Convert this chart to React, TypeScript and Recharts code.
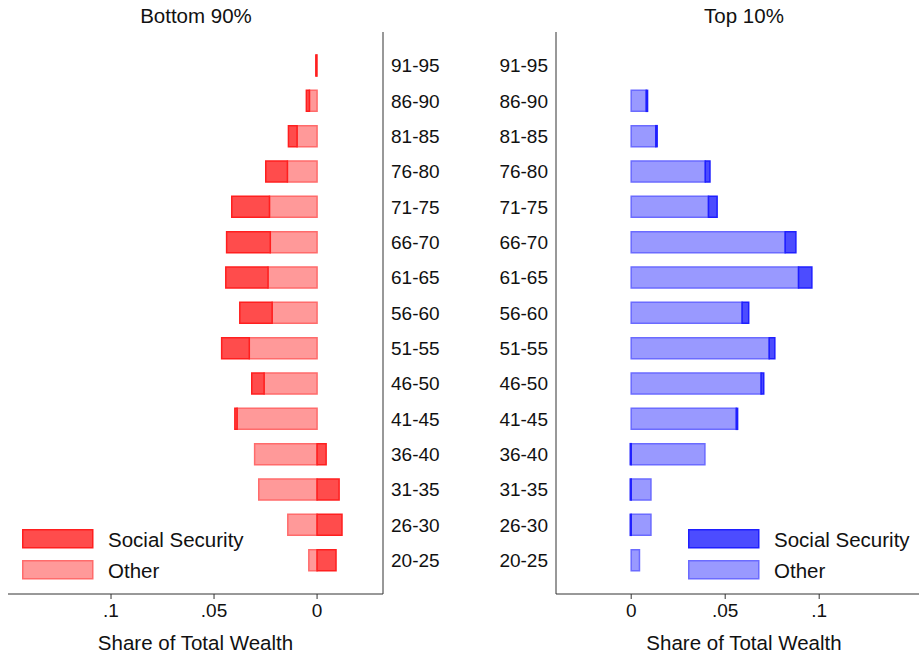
import { BarChart, Bar, XAxis, YAxis } from 'recharts'

// Age groups, oldest on top
const ageGroups = [
  '91-95', '86-90', '81-85', '76-80', '71-75', '66-70', '61-65', '56-60',
  '51-55', '46-50', '41-45', '36-40', '31-35', '26-30', '20-25'
]

// Bottom 90% shares of total wealth
const bottomSocialSecurity = [
  0.0004, 0.0015, 0.0042, 0.0105, 0.0183, 0.0212, 0.0205, 0.0157,
  0.0134, 0.006, 0.0011, -0.0044, -0.0107, -0.0121, -0.0092
]
const bottomOther = [
  0.0002, 0.0037, 0.0097, 0.0144, 0.0231, 0.0227, 0.0238, 0.0218,
  0.0329, 0.0257, 0.0388, 0.0303, 0.0283, 0.0142, 0.004
]

// Top 10% shares of total wealth
const topSocialSecurity = [
  0, 0.0007, 0.0007, 0.0025, 0.0046, 0.0057, 0.0071, 0.0035,
  0.003, 0.0014, 0.0007, -0.0005, -0.0005, -0.0005, 0
]
const topOther = [
  0, 0.008, 0.0131, 0.0394, 0.0411, 0.0819, 0.089, 0.059,
  0.0734, 0.0691, 0.0559, 0.0392, 0.0105, 0.0105, 0.0044
]

const shareTicks = [0, 0.05, 0.1]

const bottomData = ageGroups.map((age, i) => ({
  age,
  socialSecurity: bottomSocialSecurity[i],
  other: bottomOther[i]
}))
const topData = ageGroups.map((age, i) => ({
  age,
  socialSecurity: topSocialSecurity[i],
  other: topOther[i]
}))

const colors = {
  red: { ss: '#ff4c4c', ssLine: '#ff1f1f', other: '#ff9999', otherLine: '#ff6b6b' },
  blue: { ss: '#4c4cff', ssLine: '#1f1fff', other: '#9999ff', otherLine: '#6b6bff' }
}

const formatShare = (v: number) => (v === 0 ? '0' : String(v).replace(/^0/, ''))

const axisStroke = '#333'
const textColor = '#111'

function LegendKey({ left, palette }: { left: number; palette: typeof colors.red }) {
  return (
    <svg
      width={260}
      height={60}
      style={{ position: 'absolute', left, top: 525, overflow: 'visible' }}
    >
      <rect x={0.75} y={4.75} width={70} height={18} fill={palette.ss} stroke={palette.ssLine} strokeWidth={1.5} />
      <text x={86} y={14} dominantBaseline="central" fontSize={20.5} fill={textColor}>
        Social Security
      </text>
      <rect x={0.75} y={35.75} width={70} height={18} fill={palette.other} stroke={palette.otherLine} strokeWidth={1.5} />
      <text x={86} y={45} dominantBaseline="central" fontSize={20.5} fill={textColor}>
        Other
      </text>
    </svg>
  )
}

export default function App() {
  return (
    <div
      style={{
        position: 'absolute',
        left: 0,
        top: 0,
        width: 919,
        height: 658,
        overflow: 'hidden',
        background: '#fff',
        fontFamily: '"Liberation Sans", Arial, Helvetica, sans-serif'
      }}
    >
      {/* Panel titles */}
      <div style={{ position: 'absolute', left: 0, width: 392, top: 4, textAlign: 'center', fontSize: 20.5, lineHeight: '24px', color: textColor }}>
        Bottom 90%
      </div>
      <div style={{ position: 'absolute', left: 556, width: 376, top: 4, textAlign: 'center', fontSize: 20.5, lineHeight: '24px', color: textColor }}>
        Top 10%
      </div>

      {/* Bottom 90% panel, axis runs right to left */}
      <div style={{ position: 'absolute', left: 0, top: 0 }}>
        <BarChart
          layout="vertical"
          width={460}
          height={658}
          data={bottomData}
          margin={{ top: 32, right: 0, bottom: 0, left: 8 }}
          stackOffset="sign"
          barSize={21}
        >
          <XAxis
            type="number"
            domain={[-0.032, 0.15]}
            reversed
            allowDataOverflow
            ticks={shareTicks}
            tickFormatter={formatShare}
            height={64}
            tickSize={5}
            tickMargin={5}
            stroke={axisStroke}
            tick={{ fill: textColor, fontSize: 19 }}
            label={{ value: 'Share of Total Wealth', position: 'insideBottom', offset: 8, fill: textColor, fontSize: 20.5 }}
          />
          <YAxis
            type="category"
            dataKey="age"
            orientation="right"
            width={77}
            interval={0}
            tickLine={false}
            padding={{ top: 16, bottom: 16 }}
            stroke={axisStroke}
            tick={{ fill: textColor, fontSize: 19 }}
          />
          <Bar dataKey="other" stackId="a" fill={colors.red.other} stroke={colors.red.otherLine} strokeWidth={1.5} isAnimationActive={false} />
          <Bar dataKey="socialSecurity" stackId="a" fill={colors.red.ss} stroke={colors.red.ssLine} strokeWidth={1.5} isAnimationActive={false} />
        </BarChart>
      </div>

      {/* Top 10% panel */}
      <div style={{ position: 'absolute', left: 460, top: 0 }}>
        <BarChart
          layout="vertical"
          width={472}
          height={658}
          data={topData}
          margin={{ top: 32, right: 0, bottom: 0, left: 0 }}
          stackOffset="sign"
          barSize={21}
        >
          <XAxis
            type="number"
            domain={[-0.04, 0.16]}
            allowDataOverflow
            ticks={shareTicks}
            tickFormatter={formatShare}
            height={64}
            tickSize={5}
            tickMargin={5}
            stroke={axisStroke}
            tick={{ fill: textColor, fontSize: 19 }}
            label={{ value: 'Share of Total Wealth', position: 'insideBottom', offset: 8, fill: textColor, fontSize: 20.5 }}
          />
          <YAxis
            type="category"
            dataKey="age"
            orientation="left"
            width={96}
            interval={0}
            tickLine={false}
            padding={{ top: 16, bottom: 16 }}
            stroke={axisStroke}
            tick={{ fill: textColor, fontSize: 19 }}
          />
          <Bar dataKey="other" stackId="a" fill={colors.blue.other} stroke={colors.blue.otherLine} strokeWidth={1.5} isAnimationActive={false} />
          <Bar dataKey="socialSecurity" stackId="a" fill={colors.blue.ss} stroke={colors.blue.ssLine} strokeWidth={1.5} isAnimationActive={false} />
        </BarChart>
      </div>

      <LegendKey left={22} palette={colors.red} />
      <LegendKey left={688} palette={colors.blue} />
    </div>
  )
}
